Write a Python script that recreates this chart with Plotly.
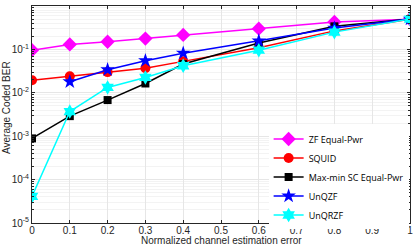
import plotly.graph_objects as go

x_err = [0, 0.1, 0.2, 0.3, 0.4, 0.6, 0.8, 1.0]
zf_equal_pwr = [0.096, 0.13, 0.15, 0.178, 0.216, 0.30, 0.43, 0.495]
squid = [0.0195, 0.024, 0.030, 0.037, 0.053, 0.109, 0.267, 0.494]
maxmin_sc = [8.9e-4, 2.9e-3, 6.8e-3, 0.0164, 0.046, 0.141, 0.34, 0.5]
x_unqzf = [0.1, 0.2, 0.3, 0.4, 0.6, 0.8, 1.0]
unqzf = [0.018, 0.034, 0.055, 0.082, 0.158, 0.31, 0.5]
unqrzf = [4.1e-5, 3.7e-3, 0.0133, 0.0226, 0.042, 0.096, 0.25, 0.5]

x_ticks = [0, 0.1, 0.2, 0.3, 0.4, 0.5, 0.6, 0.7, 0.8, 0.9, 1]
x_ticklabels = ["0", "0.1", "0.2", "0.3", "0.4", "0.5", "0.6", "0.7", "0.8", "0.9", "1"]
y_ticks = [1e-5, 1e-4, 1e-3, 1e-2, 1e-1, 1]
y_ticklabels = ["10<sup>-5</sup>", "10<sup>-4</sup>", "10<sup>-3</sup>", "10<sup>-2</sup>", "10<sup>-1</sup>", "10<sup>0</sup>"]

series = [
    ("ZF Equal-Pwr", x_err, zf_equal_pwr, "#ff00ff", "diamond", 11),
    ("SQUID", x_err, squid, "#ff0000", "circle", 10),
    ("Max-min SC Equal-Pwr", x_err, maxmin_sc, "#000000", "square", 8),
    ("UnQZF", x_unqzf, unqzf, "#0000ff", "star", 11),
    ("UnQRZF", x_err, unqrzf, "#00ffff", "hexagram", 11),
]

fig = go.Figure()
for name, xs, ys, color, sym, size in series:
    fig.add_trace(go.Scatter(
        x=xs, y=ys, name=name, mode="lines+markers",
        line=dict(color=color, width=1.5),
        marker=dict(symbol=sym, size=size, color=color, line=dict(width=0)),
    ))

axis_col = "#262626"
fig.update_layout(
    width=415, height=244,
    margin=dict(l=32, r=5, t=6, b=21, autoexpand=False),
    paper_bgcolor="white", plot_bgcolor="white",
    font=dict(family="Liberation Sans, Arial", size=10, color=axis_col),
    showlegend=True,
    legend=dict(
        x=0.626, y=0.212, xanchor="left", yanchor="middle",
        bgcolor="white", borderwidth=0,
        font=dict(family="Open Sans", size=9, color="#000000"),
        tracegroupgap=0, itemwidth=30,
    ),
    annotations=[
        dict(text="Normalized channel estimation error", xref="paper", yref="paper",
             x=0.5, y=0, xanchor="center", yanchor="middle", yshift=-17,
             showarrow=False, font=dict(size=10, color=axis_col)),
        dict(text="Average Coded BER", xref="paper", yref="paper",
             x=0, y=0.53, xanchor="center", yanchor="middle", xshift=-25, textangle=-90,
             showarrow=False, font=dict(size=10, color=axis_col)),
    ],
)
fig.update_xaxes(
    range=[0, 1], tickvals=x_ticks, ticktext=x_ticklabels, automargin=False,
    showline=True, linecolor=axis_col, linewidth=1, mirror="ticks",
    ticks="inside", ticklen=3, tickcolor=axis_col, ticklabelstandoff=-2,
    showgrid=True, gridcolor="#e6e6e6", gridwidth=1, zeroline=False,
)
fig.update_yaxes(
    type="log", range=[-5, 0], tickvals=y_ticks, ticktext=y_ticklabels, automargin=False,
    showline=True, linecolor=axis_col, linewidth=1, mirror="ticks",
    ticks="inside", ticklen=3, tickcolor=axis_col,
    showgrid=True, gridcolor="#e6e6e6", gridwidth=1, zeroline=False,
    minor=dict(dtick="D1", showgrid=True, gridcolor="#f3f3f3", ticks="inside", ticklen=2, tickcolor=axis_col),
)

fig.write_html("out.html", config={"displayModeBar": False},
               post_script="document.body.style.margin='0';document.body.style.overflow='hidden';")
